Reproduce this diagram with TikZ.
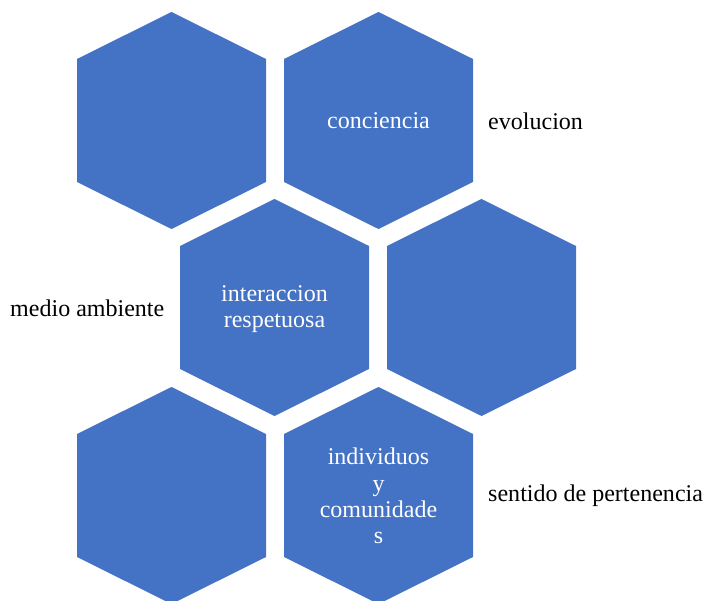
\documentclass[tikz,border=0pt]{standalone}
\usepackage{fontspec}
\setmainfont{Liberation Serif}
\usepackage{tikz}
\usetikzlibrary{calc}
\usetikzlibrary{positioning}
\definecolor{hexblue}{RGB}{68, 114, 196}

\tikzset{
    hexfill/.style={fill=hexblue, draw=none},
    hextext/.style={color=white, align=center, inner sep=0pt, font=\fontsize{20.5}{22.4}\selectfont},
    sidetext/.style={color=black, inner sep=0pt, font=\fontsize{20.5}{22.4}\selectfont}
}

\begin{document}
\begin{tikzpicture}[x=0.03cm, y=-0.03cm]
            \useasboundingbox (0,0) rectangle (705,601);
            \clip (0,0) rectangle (705,601);
            % hexagons, row by row
            \foreach \cx/\cy in {171.5/120.5, 378.5/120.5, 274.5/307.5, 481.5/307.5, 171.5/495.5, 378.5/495.5}
                \fill[hexfill, shift={(\cx,\cy)}] (-94.5,-61.5) -- (0,-108.5) -- (94.5,-61.5) -- (94.5,61.5) -- (0,108.5) -- (-94.5,61.5) -- cycle;
            % texts inside
            \node[hextext] (conciencia)  at (378.5,120.5) {conciencia};
            \node[hextext] (interaccion) at (274.5,309)   {interaccion\\respetuosa};
            \node[hextext] (individuos)  at (378.5,496)   {individuos\\y\\comunidade\\s};
            % texts beside
            \node[sidetext, anchor=west] (evolucion) at (488,121)   {evolucion};
            \node[sidetext, anchor=west] (medio)     at (10,308)    {medio ambiente};
            \node[sidetext, anchor=west] (sentido)   at (488,496)   {sentido de pertenencia};
        \end{tikzpicture}
\end{document}
